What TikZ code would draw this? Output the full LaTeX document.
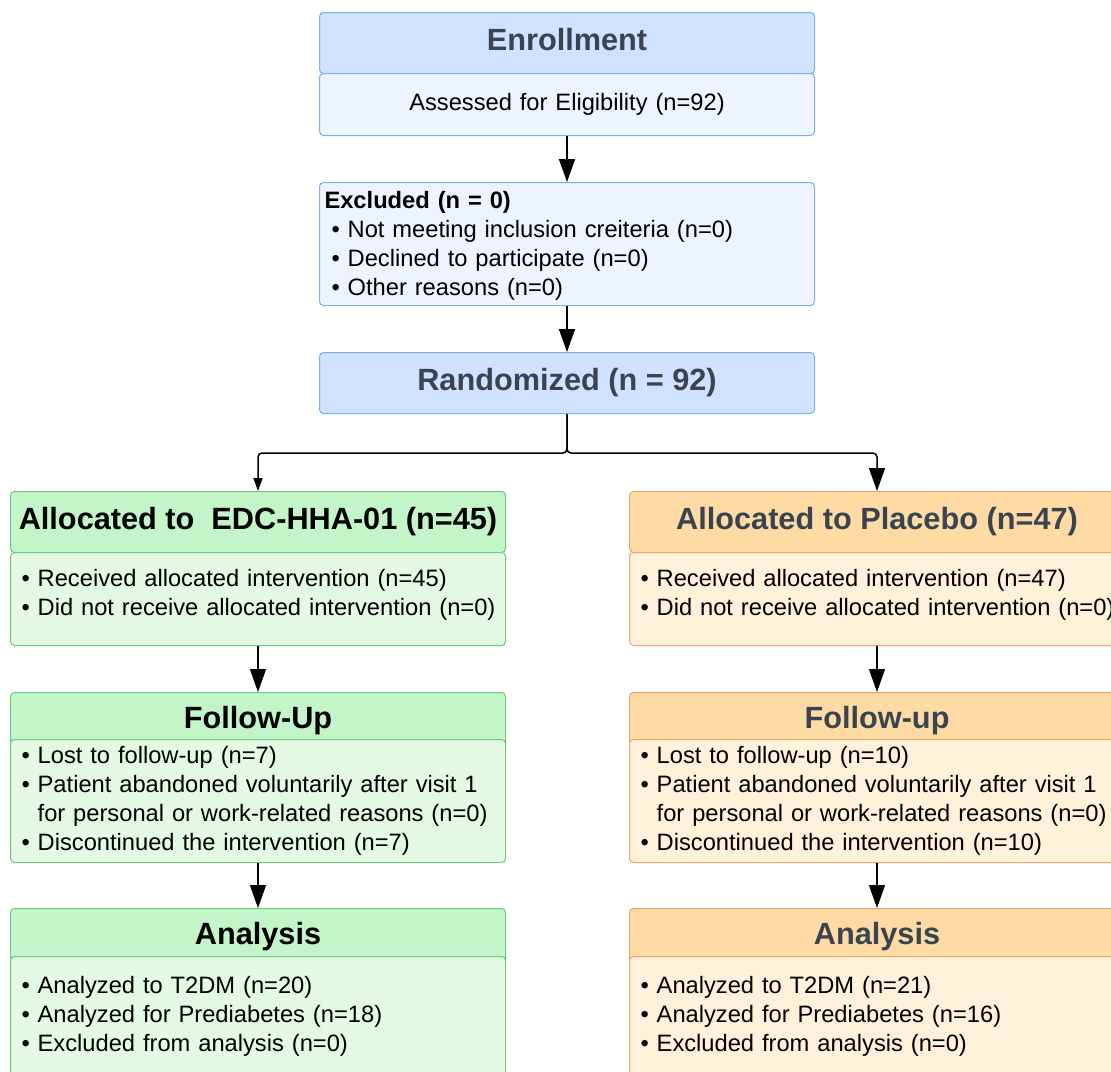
\documentclass[tikz,border=0pt]{standalone}
\usepackage{fontspec}
\setmainfont{Liberation Sans}
\usetikzlibrary{arrows.meta}
\definecolor{blueHead}{HTML}{CFE2FF}
\definecolor{blueBody}{HTML}{EDF4FF}
\definecolor{blueLine}{HTML}{7DAEF0}
\definecolor{greenHead}{HTML}{C3F5C8}
\definecolor{greenBody}{HTML}{E3F9E3}
\definecolor{greenLine}{HTML}{6DCB7E}
\definecolor{orangeHead}{HTML}{FEDBA5}
\definecolor{orangeBody}{HTML}{FFF1DA}
\definecolor{orangeLine}{HTML}{F0A46C}
\definecolor{titleGray}{HTML}{3A4350}
\newcommand{\bitem}[1]{\hspace*{7pt}\textbullet\ #1}
\newcommand{\bcont}[1]{\hspace*{7pt}\hphantom{\textbullet\ }#1}

\begin{document}
\begin{tikzpicture}[x=1pt,y=-1pt,
	head/.style={draw, line width=1pt, rounded corners=4pt, anchor=north west, minimum width=495pt, inner sep=0pt, align=center, font=\fontsize{30.7}{36}\selectfont\bfseries},
	body/.style={draw, line width=1pt, rounded corners=4pt, anchor=north west, text width=487pt, inner xsep=4pt, inner ysep=0pt, align=left, font=\fontsize{23.7}{29}\selectfont},
	conn/.style={line width=1.5pt, -{Triangle[length=23pt,width=16pt]}},
	connsmall/.style={line width=1.5pt, -{Triangle[length=13pt,width=9pt]}}]
			\useasboundingbox (0,0) rectangle (1111,1071);
			\clip (0,0) rectangle (1111,1071);
			
			% Enrollment
			\node[head, fill=blueHead, draw=blueLine, text=titleGray, minimum height=61pt] (enr) at (319,12) {Enrollment\vphantom{(}};
			\node[body, fill=blueBody, draw=blueLine, minimum height=62pt, align=center] (enrBody) at (319,73) {Assessed for Eligibility (n=92)};
			\node[body, fill=blueBody, draw=blueLine, minimum height=123pt, inner xsep=5pt, text width=485pt] (excl) at (319,182) {%
				\textbf{Excluded (n = 0)}\\
				\bitem{Not meeting inclusion creiteria (n=0)}\\
				\bitem{Declined to participate (n=0)}\\
				\bitem{Other reasons (n=0)}\vspace{-3pt}};
			\node[head, fill=blueHead, draw=blueLine, text=titleGray, minimum height=61pt] (rand) at (319,352) {Randomized (n = 92)};
			
			% Left arm
			\node[head, fill=greenHead, draw=greenLine, minimum height=61pt] (allocA) at (10,491) {Allocated to\ \ EDC-HHA-01 (n=45)};
			\node[body, fill=greenBody, draw=greenLine, minimum height=93pt] (allocABody) at (10,552) {%
				\bitem{Received allocated intervention (n=45)}\\
				\bitem{Did not receive allocated intervention (n=0)}\vspace{8pt}};
			\node[head, fill=greenHead, draw=greenLine, minimum height=56pt] (fuA) at (10,692) {Follow-Up\vphantom{(}};
			\node[body, fill=greenBody, draw=greenLine, minimum height=123pt] (fuABody) at (10,739) {%
				\bitem{Lost to follow-up (n=7)}\\
				\bitem{Patient abandoned voluntarily after visit 1}\\
				\bcont{for personal or work-related reasons (n=0)}\\
				\bitem{Discontinued the intervention (n=7)}};
			\node[head, fill=greenHead, draw=greenLine, minimum height=56pt] (anA) at (10,908) {Analysis\vphantom{(}};
			\node[body, fill=greenBody, draw=greenLine, inner ysep=20pt] (anABody) at (10,956) {%
				\bitem{Analyzed to T2DM (n=20)}\\
				\bitem{Analyzed for Prediabetes (n=18)}\\
				\bitem{Excluded from analysis (n=0)}};
			
			% Right arm
			\node[head, fill=orangeHead, draw=orangeLine, text=titleGray, minimum height=61pt] (allocB) at (629,491) {Allocated to Placebo (n=47)};
			\node[body, fill=orangeBody, draw=orangeLine, minimum height=93pt] (allocBBody) at (629,552) {%
				\bitem{Received allocated intervention (n=47)}\\
				\bitem{Did not receive allocated intervention (n=0)}\vspace{8pt}};
			\node[head, fill=orangeHead, draw=orangeLine, text=titleGray, minimum height=56pt] (fuB) at (629,692) {Follow-up\vphantom{(}};
			\node[body, fill=orangeBody, draw=orangeLine, minimum height=123pt] (fuBBody) at (629,739) {%
				\bitem{Lost to follow-up (n=10)}\\
				\bitem{Patient abandoned voluntarily after visit 1}\\
				\bcont{for personal or work-related reasons (n=0)}\\
				\bitem{Discontinued the intervention (n=10)}};
			\node[head, fill=orangeHead, draw=orangeLine, text=titleGray, minimum height=56pt] (anB) at (629,908) {Analysis\vphantom{(}};
			\node[body, fill=orangeBody, draw=orangeLine, inner ysep=20pt] (anBBody) at (629,956) {%
				\bitem{Analyzed to T2DM (n=21)}\\
				\bitem{Analyzed for Prediabetes (n=16)}\\
				\bitem{Excluded from analysis (n=0)}};
			
			% Connectors
			\draw[conn] (enrBody.south) -- (excl.north);
			\draw[conn] (excl.south) -- (rand.north);
			\draw[connsmall, rounded corners=4pt] (rand.south) -- ++(0,39) -| (allocA.north);
			\draw[conn, rounded corners=4pt] (rand.south) -- ++(0,39) -| (allocB.north);
			\draw[conn] (allocABody.south) -- (fuA.north);
			\draw[conn] (fuABody.south) -- (anA.north);
			\draw[conn] (allocBBody.south) -- (fuB.north);
			\draw[conn] (fuBBody.south) -- (anB.north);
		\end{tikzpicture}
\end{document}
